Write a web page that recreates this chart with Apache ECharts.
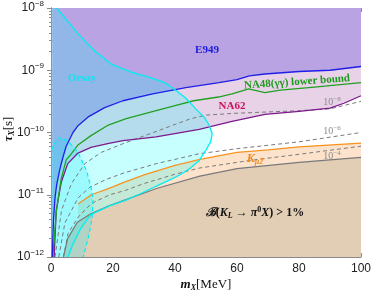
<!DOCTYPE html>
<html><head><meta charset="utf-8">
<script src="https://cdn.jsdelivr.net/npm/echarts@6/dist/echarts.min.js"></script>
<style>html,body{margin:0;padding:0;background:#fff}#c{width:374px;height:294px}</style>
</head><body><div id="c"></div>
<script>
// axis ranges / ticks
const xMin = 0, xMax = 100, xStep = 20;
const yMinExp = -12, yMaxExp = -8;

// curves: mass m_X [MeV] and log10(tau_X / s)
const blueM   = [0.4,0.8,1.3,1.8,2.8,3.9,4.9,7.1,8.7,12,17.3,23.2,32.8,43.5,54.2,60,64,69,80,90,100];
const blueLog = [-12,-11.4,-11.05,-10.85,-10.6,-10.39,-10.22,-10.0,-9.89,-9.75,-9.6,-9.49,-9.38,-9.28,-9.2,-9.15,-9.09,-9.06,-9.02,-9.0,-8.94];

const greenM   = [0.6,1.7,3.3,4.9,6.6,8.7,12.9,18.5,24,33,40,46,54,58.4,63.8,69,74,85,100];
const greenLog = [-12,-11.28,-10.74,-10.44,-10.34,-10.2,-10.05,-9.88,-9.78,-9.66,-9.57,-9.49,-9.43,-9.38,-9.3,-9.36,-9.32,-9.27,-9.2];

const purpleM   = [1,1.7,3.3,5.4,8.7,12.9,18.3,23.2,33.9,47.8,58.4,69,80,90,94.5,100];
const purpleLog = [-12,-11.25,-10.8,-10.5,-10.33,-10.24,-10.18,-10.13,-10.07,-9.95,-9.82,-9.71,-9.66,-9.61,-9.53,-9.41];

const d8M   = [1.3,3.4,6.6,10.9,16.2,23.2,33,40,45,50,60,80,90,100];
const d8Log = [-12,-11.25,-10.82,-10.5,-10.32,-10.18,-10.0,-9.87,-9.78,-9.72,-9.69,-9.65,-9.62,-9.5];

const d6M   = [2.5,4.5,8.75,12.5,18,23.5,34,48,60,80,100];
const d6Log = [-12,-11.45,-11.05,-10.88,-10.75,-10.65,-10.5,-10.34,-10.26,-10.15,-10.0];

const d4M   = [4,5.5,8.75,13,19,24,30,40,48,64,80,100];
const d4Log = [-12,-11.62,-11.36,-11.14,-11.0,-10.93,-10.82,-10.67,-10.57,-10.45,-10.35,-10.22];

const orangeM   = [8.75,13,18.5,23.5,30,40,48,60,70,80,100];
const orangeLog = [-11.15,-11.0,-10.9,-10.8,-10.68,-10.53,-10.43,-10.32,-10.28,-10.23,-10.17];

const grayM   = [4,5.4,8.5,13,18.5,23.5,34,48,60,80,100];
const grayLog = [-12,-11.7,-11.44,-11.3,-11.18,-11.09,-10.9,-10.7,-10.58,-10.48,-10.4];

const orsayM   = [1.8,8.8,14.1,19.4,25.9,32,36.3,39.7,43.5,46.7,49.5,51,52,51.5,49.9,47.8,45,42,38,34,29,24,18.9,12.8,9.5,7,5.5];
const orsayLog = [-8,-8.42,-8.69,-8.9,-9.03,-9.12,-9.19,-9.3,-9.45,-9.62,-9.76,-9.88,-10.02,-10.15,-10.29,-10.45,-10.57,-10.67,-10.77,-10.86,-10.98,-11.09,-11.18,-11.32,-11.55,-11.8,-12];

const orsay2M   = [0,2.2,5.4,8.7,11.5,13,13.6,13.2,12,10.4];
const orsay2Log = [-10.29,-10.08,-10.13,-10.32,-10.62,-10.9,-11.1,-11.4,-11.7,-12];

const pts = (m, lg) => m.map((x, i) => [x, Math.pow(10, lg[i])]);
const yMin = Math.pow(10, yMinExp), yMax = Math.pow(10, yMaxExp);

const orsayPoly  = [[xMin, yMax]].concat(pts(orsayM, orsayLog), [[xMin, yMin]]);
const orsay2Poly = pts(orsay2M, orsay2Log).concat([[xMin, yMin]]);

function fill(data, color, origin) {
  return {type:'line', data, showSymbol:false, silent:true, z:1,
    lineStyle:{width:0}, areaStyle:{color, opacity:1, origin}};
}
function poly(points, color) {
  return {type:'custom', coordinateSystem:'cartesian2d', data:[[xMin, yMin]], z:2, silent:true,
    renderItem:(params, api) => ({type:'polygon',
      shape:{points: points.map(p => api.coord(p))},
      style:{fill: color}})};
}
function stroke(data, color, width, dash) {
  return {type:'line', data, showSymbol:false, silent:true, z:3,
    lineStyle:{color, width, type: dash ? [4,3] : 'solid'}};
}

const axisGray = '#8a8a8a';
const sans = 'Liberation Sans';
const serif = 'Liberation Serif';
const expLabel = (t) => ({text:'{a|10}{b|' + t + '}', rich:{a:{fontSize:10, fontFamily:serif, fill:'#8a8a8a'}, b:{fontSize:7, fontFamily:serif, fill:'#8a8a8a', padding:[0,0,5,0]}}, align:'center', verticalAlign:'middle'});

const chart = echarts.init(document.getElementById('c'), null, {renderer:'canvas'});
chart.setOption({
  animation:false,
  grid:{left:51, right:11, top:7, bottom:37},
  xAxis:[
    {type:'value', min:xMin, max:xMax, interval:xStep, position:'bottom',
     axisLine:{lineStyle:{color:axisGray}}, axisTick:{inside:true, length:4, lineStyle:{color:axisGray}},
     minorTick:{show:true, splitNumber:4, length:2, lineStyle:{color:axisGray}},
     splitLine:{show:false}, axisLabel:{color:'#222', fontSize:12, fontFamily:sans, margin:6}},
    {type:'value', min:xMin, max:xMax, interval:xStep, position:'top',
     axisLine:{lineStyle:{color:axisGray}}, axisTick:{inside:true, length:4, lineStyle:{color:axisGray}},
     minorTick:{show:true, splitNumber:4, length:2, lineStyle:{color:axisGray}},
     splitLine:{show:false}, axisLabel:{show:false}}
  ],
  yAxis:[
    {type:'log', logBase:10, min:yMin, max:yMax, position:'left',
     axisLine:{show:true, lineStyle:{color:axisGray}}, axisTick:{inside:true, length:4, lineStyle:{color:axisGray}},
     minorTick:{show:true, splitNumber:9, length:2, lineStyle:{color:axisGray}},
     splitLine:{show:false},
     axisLabel:{margin:7, fontFamily:sans,
       formatter:v => '{a|10}{b|' + String(Math.round(Math.log10(v))).replace('-', '−') + '}',
       rich:{a:{fontSize:12, color:'#222', fontFamily:sans},
             b:{fontSize:8, color:'#222', fontFamily:sans, padding:[0,0,8,0]}}}},
    {type:'log', logBase:10, min:yMin, max:yMax, position:'right',
     axisLine:{show:true, lineStyle:{color:axisGray}}, axisTick:{inside:true, length:4, lineStyle:{color:axisGray}},
     minorTick:{show:true, splitNumber:9, length:2, lineStyle:{color:axisGray}},
     splitLine:{show:false}, axisLabel:{show:false}}
  ],
  series:[
    fill(pts(purpleM, purpleLog), '#e8d2e8', 'end'),
    fill(pts(blueM, blueLog), '#b9a3e2', 'end'),
    fill(pts(orangeM, orangeLog), '#fde3cc', 'start'),
    fill(pts(grayM, grayLog), '#e2cdb5', 'start'),
    poly(orsayPoly, 'rgba(0,255,255,0.22)'),
    poly(orsay2Poly, 'rgba(0,230,255,0.22)'),
    stroke(pts(d8M, d8Log), '#7a7a7a', 1, true),
    stroke(pts(d6M, d6Log), '#7a7a7a', 1, true),
    stroke(pts(d4M, d4Log), '#7a7a7a', 1, true),
    stroke(pts(grayM, grayLog), '#7a7a7a', 1.2, false),
    stroke(pts(orangeM, orangeLog), '#f7931e', 1.3, false),
    stroke(pts(purpleM, purpleLog), '#7d1a8c', 1.3, false),
    stroke(pts(greenM, greenLog), '#22a022', 1.3, false),
    stroke(pts(blueM, blueLog), '#1f1fe8', 1.3, false),
    stroke(pts(orsayM, orsayLog), '#00eef0', 1.3, false),
    stroke(pts(orsay2M, orsay2Log), '#00eef0', 1.2, true)
  ],
  graphic:[
    {type:'text', x:207, y:50, z:10, style:{text:'E949', font:'bold 11px "Liberation Serif"', fill:'#1a1ae0', align:'center', verticalAlign:'middle'}},
    {type:'text', x:82, y:78, z:10, style:{text:'Orsay', font:'bold 11px "Liberation Serif"', fill:'#10e4f0', align:'center', verticalAlign:'middle'}},
    {type:'text', x:232, y:106, z:10, style:{text:'NA62', font:'bold 11px "Liberation Serif"', fill:'#c8145a', align:'center', verticalAlign:'middle'}},
    {type:'text', x:297, y:82, z:10, rotation:0.07, style:{text:'NA48(γγ) lower bound', font:'bold 11px "Liberation Serif"', fill:'#1e9a1e', align:'center', verticalAlign:'middle'}},
    {type:'text', x:332, y:102, z:10, style:expLabel('−8')},
    {type:'text', x:332, y:131, z:10, style:expLabel('−6')},
    {type:'text', x:332, y:156, z:10, style:expLabel('−4')},
    {type:'text', x:255, y:159, z:10, style:{text:'{a|K}{b|μ2}', rich:{a:{font:'bold italic 12px "Liberation Serif"', fill:'#f08a1a'}, b:{font:'bold italic 8px "Liberation Serif"', fill:'#f08a1a', padding:[5,0,0,0]}}, align:'center', verticalAlign:'middle'}},
    {type:'text', x:255, y:213, z:10, style:{text:'{c|ℬ}{n|(}{i|K}{s|L}{n| → }{i|π}{p|0}{i|X}{n|) > 1%}',
      rich:{c:{font:'bold italic 12px "DejaVu Serif"', fill:'#111'}, n:{font:'bold 12px "Liberation Serif"', fill:'#111'},
            i:{font:'bold italic 12px "Liberation Serif"', fill:'#111'}, s:{font:'bold italic 8px "Liberation Serif"', fill:'#111', padding:[5,0,0,0]},
            p:{font:'bold 8px "Liberation Serif"', fill:'#111', padding:[0,0,6,0]}}, align:'center', verticalAlign:'middle'}},
    {type:'text', x:206, y:285, z:10, style:{text:'{i|m}{s|X}{n|[MeV]}',
      rich:{i:{font:'bold italic 13px "Liberation Serif"', fill:'#111'}, s:{font:'bold italic 8px "Liberation Serif"', fill:'#111', padding:[5,0,0,0]}, n:{font:'13px "Liberation Serif"', fill:'#111'}}, align:'center', verticalAlign:'middle'}},
    {type:'text', x:9, y:129, z:10, rotation:Math.PI/2, style:{text:'{i|τ}{s|X}{n|[s]}',
      rich:{i:{font:'bold italic 13px "Liberation Serif"', fill:'#111'}, s:{font:'bold italic 8px "Liberation Serif"', fill:'#111', padding:[5,0,0,0]}, n:{font:'13px "Liberation Serif"', fill:'#111'}}, align:'center', verticalAlign:'middle'}}
  ]
});
</script></body></html>
